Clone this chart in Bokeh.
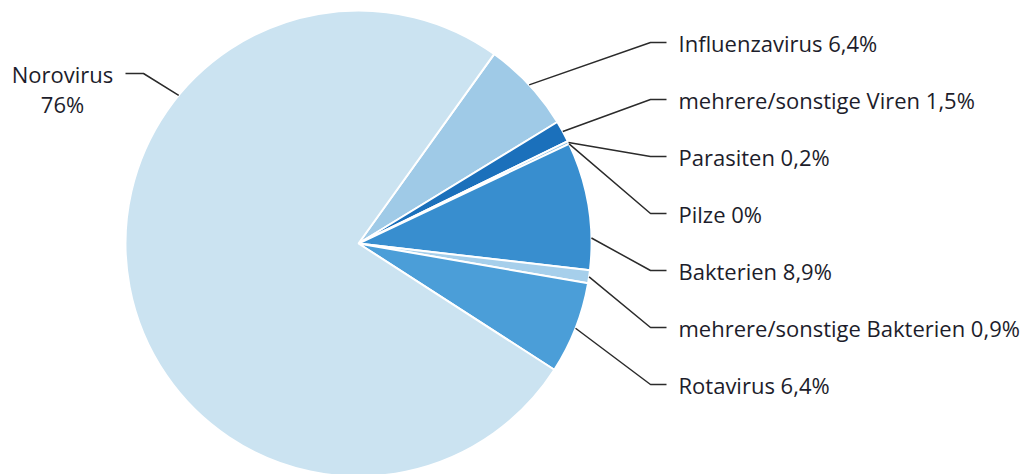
import math
from bokeh.plotting import figure
from bokeh.models import Range1d
from bokeh.core.properties import value
from bokeh.embed import file_html
from bokeh.resources import INLINE

# Shares of outbreaks by pathogen (percent), in clockwise order
categories = ["Influenzavirus", "mehrere/sonstige Viren", "Parasiten", "Pilze",
              "Bakterien", "mehrere/sonstige Bakterien", "Rotavirus", "Norovirus"]
shares = [6.4, 1.5, 0.2, 0, 8.9, 0.9, 6.4, 76]
colors = ["#9fcae7", "#1b70bb", "#8cc0e4", "#8cc0e4",
          "#388ecf", "#a6cfeb", "#4b9ed8", "#cbe3f1"]

W, H = 1028, 474
CX, CY, R = 358, H - 243, 233
START_DEG = 54.4          # where the first slice begins, slices run clockwise
FONT = "Open Sans"
FONT_SIZE = "22px"
TEXT_COLOR = "#1d1d2b"
LINE_COLOR = "#2b2b2b"


def fmt(v):
    s = f"{v:g}"
    return s.replace(".", ",")


p = figure(width=W, height=H, x_range=Range1d(0, W), y_range=Range1d(0, H),
           output_backend="svg", toolbar_location=None, min_border=0)
p.axis.visible = False
p.grid.visible = False
p.outline_line_color = None
p.background_fill_color = "white"

total = sum(shares)
cum = 0.0
mids = []
starts, ends, fills = [], [], []
for v, c in zip(shares, colors):
    a0 = START_DEG - cum / total * 360.0
    a1 = a0 - v / total * 360.0
    mids.append((a0 + a1) / 2.0)
    cum += v
    if v <= 0:
        continue  # an empty slice would render as a full disc
    starts.append(math.radians(a1))
    ends.append(math.radians(a0))
    fills.append(c)

p.wedge(x=[CX] * len(fills), y=[CY] * len(fills), radius=R,
        start_angle=starts, end_angle=ends, direction="anticlock",
        fill_color=fills, line_color="white", line_width=2)

# Right-hand labels with elbow leaders
row0, row_gap = 42, 57
elbow_x, hook_x, text_x = 650, 666, 678
nudge = {"Bakterien": -8.0}
for i, (name, v) in enumerate(zip(categories[:-1], shares[:-1])):
    yb = H - (row0 + row_gap * i)
    ang = math.radians(mids[i] + nudge.get(name, 0.0))
    sx = CX + R * math.cos(ang)
    sy = CY + R * math.sin(ang)
    p.line([sx, elbow_x, hook_x], [sy, yb, yb], line_color=LINE_COLOR, line_width=1.5)
    p.text(x=[text_x], y=[yb], text=[f"{name} {fmt(v)}%"],
           text_font=value(FONT), text_font_size=FONT_SIZE, text_color=TEXT_COLOR,
           text_baseline="alphabetic", text_align="left")

# Norovirus label on the left
noro_ang = math.radians(140.5)
nx = CX + R * math.cos(noro_ang)
ny = CY + R * math.sin(noro_ang)
p.line([nx, 143, 125], [ny, H - 73, H - 73], line_color=LINE_COLOR, line_width=1.5)
p.text(x=[62, 62], y=[H - 73, H - 103], text=[categories[-1], f"{fmt(shares[-1])}%"],
       text_font=value(FONT), text_font_size=FONT_SIZE, text_color=TEXT_COLOR,
       text_baseline="alphabetic", text_align="center")

open("out.html", "w").write(file_html(p, INLINE))
